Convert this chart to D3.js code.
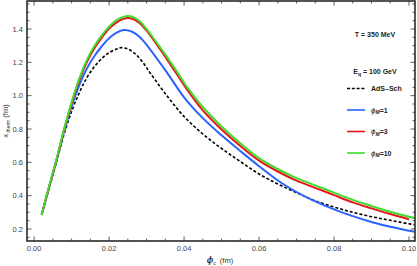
<!DOCTYPE html>
<html><head><meta charset="utf-8">
<script src="https://cdn.jsdelivr.net/npm/d3@7"></script>
<style>body{margin:0;background:#fff}svg{display:block}text{font-family:"Liberation Sans",Arial,sans-serif}</style>
</head><body><svg id="c" width="417" height="266"></svg>
<script>
const phiAds = [0.002,0.004,0.006,0.008,0.010,0.012,0.014,0.016,0.018,0.020,0.022,0.0232,0.025,0.027,0.029,0.031,0.0354,0.040,0.045,0.050,0.055,0.060,0.065,0.070,0.0744,0.080,0.085,0.090,0.095,0.100,0.1016];
const xAds   = [0.284,0.445,0.605,0.77,0.905,1.015,1.105,1.172,1.222,1.258,1.28,1.288,1.28,1.25,1.20,1.135,1.0,0.875,0.77,0.683,0.605,0.53,0.47,0.418,0.374,0.332,0.30,0.274,0.252,0.231,0.225];
const phiM1 = [0.002,0.004,0.006,0.008,0.010,0.012,0.014,0.016,0.018,0.020,0.022,0.0238,0.026,0.028,0.030,0.0354,0.040,0.045,0.050,0.055,0.060,0.0656,0.070,0.0744,0.080,0.085,0.090,0.095,0.100,0.1016];
const xM1   = [0.284,0.45,0.615,0.785,0.935,1.06,1.16,1.235,1.295,1.345,1.378,1.394,1.385,1.355,1.305,1.14,0.99,0.865,0.762,0.668,0.577,0.482,0.422,0.372,0.318,0.277,0.242,0.213,0.19,0.183];
const phiM3 = [0.002,0.004,0.006,0.008,0.010,0.012,0.014,0.016,0.018,0.020,0.022,0.024,0.025,0.026,0.028,0.030,0.032,0.035,0.038,0.041,0.045,0.050,0.055,0.060,0.065,0.070,0.075,0.080,0.085,0.090,0.095,0.100];
const xM3   = [0.284,0.453,0.617,0.795,0.952,1.09,1.198,1.282,1.347,1.402,1.44,1.462,1.466,1.463,1.438,1.39,1.33,1.232,1.132,1.03,0.912,0.797,0.698,0.61,0.545,0.49,0.447,0.403,0.36,0.324,0.29,0.259];
const phiM10 = [0.002,0.004,0.006,0.008,0.010,0.012,0.014,0.016,0.018,0.020,0.022,0.024,0.025,0.026,0.028,0.030,0.032,0.035,0.038,0.041,0.045,0.050,0.055,0.060,0.065,0.070,0.075,0.080,0.085,0.090,0.095,0.100,0.1016];
const xM10   = [0.284,0.456,0.622,0.80,0.96,1.10,1.21,1.295,1.36,1.414,1.453,1.474,1.478,1.475,1.45,1.40,1.34,1.246,1.147,1.045,0.932,0.815,0.715,0.625,0.56,0.505,0.462,0.418,0.375,0.338,0.303,0.273,0.265];
const xTicks = [0.00,0.02,0.04,0.06,0.08,0.10];
const yTicks = [0.2,0.4,0.6,0.8,1.0,1.2,1.4];

const series = [
  {phi:phiAds, v:xAds, color:"#000", dash:"3,2", name:"AdS\u2013Sch"},
  {phi:phiM1, v:xM1, color:"#2a62ff", dash:null, name:"1"},
  {phi:phiM3, v:xM3, color:"#e8141b", dash:null, name:"3"},
  {phi:phiM10, v:xM10, color:"#3fdc2c", dash:null, name:"10"}
];

const svg = d3.select("#c");
const L=27,R=415,T=1,B=241;
const x = d3.scaleLinear().domain([-0.0019,0.1016]).range([L,R]);
const y = d3.scaleLinear().domain([0.128,1.568]).range([B,T]);

svg.append("clipPath").attr("id","cp").append("rect").attr("x",L).attr("y",T).attr("width",R-L).attr("height",B-T);
const line = d3.line().x(d=>x(d[0])).y(d=>y(d[1])).curve(d3.curveCatmullRom.alpha(0.5));
const g = svg.append("g").attr("clip-path","url(#cp)");
series.forEach(s=>{
  g.append("path").datum(s.phi.map((p,i)=>[p,s.v[i]]))
   .attr("d",line).attr("fill","none").attr("stroke",s.color)
   .attr("stroke-width",s.dash?1.6:2).attr("stroke-dasharray",s.dash);
});

// ticks
const tk = svg.append("g").attr("stroke","#333").attr("stroke-width",0.8);
const xMinor = d3.range(0,0.1016,0.005);
xMinor.forEach((v,i)=>{
  const len = (i%4===0)?4.5:2.5;
  tk.append("line").attr("x1",x(v)).attr("x2",x(v)).attr("y1",B).attr("y2",B-len);
  tk.append("line").attr("x1",x(v)).attr("x2",x(v)).attr("y1",T).attr("y2",T+len);
});
const yMinor = d3.range(0.15,1.56,0.05);
yMinor.forEach(v=>{
  const major = Math.abs(Math.round(v*10)/10-v)<1e-6 && Math.round(v*10)%2===0;
  const len = major?4.5:2.5;
  tk.append("line").attr("y1",y(v)).attr("y2",y(v)).attr("x1",L).attr("x2",L+len);
  tk.append("line").attr("y1",y(v)).attr("y2",y(v)).attr("x1",R).attr("x2",R-len);
});
// frame
svg.append("rect").attr("x",L).attr("y",T).attr("width",R-L).attr("height",B-T)
  .attr("fill","none").attr("stroke","#2a2a2a").attr("stroke-width",1.6);

// tick labels
svg.append("g").selectAll("text").data(yTicks).join("text")
  .attr("x",L-4).attr("y",d=>y(d)+2.7).attr("text-anchor","end")
  .attr("font-size",7.5).attr("fill","#444").text(d=>d3.format(".1f")(d));
svg.append("g").selectAll("text").data(xTicks).join("text")
  .attr("x",d=>x(d)).attr("y",B+9.5).attr("text-anchor","middle")
  .attr("font-size",7.5).attr("fill","#444").text(d=>d3.format(".2f")(d));

// axis titles
const xt = svg.append("text").attr("x",220).attr("y",263).attr("text-anchor","middle").attr("font-size",7.5).attr("fill","#333");
xt.append("tspan").attr("font-style","italic").attr("font-weight","bold").attr("font-size",8.5).text("\u03d5");
xt.append("tspan").attr("font-style","italic").attr("font-size",5.5).attr("dy",1.5).text("c");
xt.append("tspan").attr("dy",-1.5).text("\u2002(fm)");

const yt = svg.append("text").attr("transform","translate(8,121) rotate(-90)").attr("text-anchor","middle").attr("font-size",7.5).attr("fill","#333");
yt.append("tspan").text("x");
yt.append("tspan").attr("font-size",5).attr("dy",1.5).text(" therm");
yt.append("tspan").attr("dy",-1.5).text(" (fm)");

// annotations
svg.append("text").attr("x",375).attr("y",37).attr("text-anchor","middle").attr("font-size",7).attr("font-weight","bold").attr("fill","#222").text("T = 350 MeV");
const t2 = svg.append("text").attr("x",375).attr("y",74).attr("text-anchor","middle").attr("font-size",7).attr("font-weight","bold").attr("fill","#222");
t2.append("tspan").text("E");
t2.append("tspan").attr("font-size",5).attr("dy",2).text("q");
t2.append("tspan").attr("dy",-2).text(" = 100 GeV");

// legend
const ly = [88.5,110,131.5,153];
series.forEach((s,i)=>{
  svg.append("line").attr("x1",347).attr("x2",365).attr("y1",ly[i]).attr("y2",ly[i])
    .attr("stroke",s.color).attr("stroke-width",s.dash?1.4:1.6).attr("stroke-dasharray",s.dash?"3,1.8":null);
  const t = svg.append("text").attr("x",371).attr("y",ly[i]+2.6).attr("font-size",7).attr("font-weight","bold").attr("fill","#222");
  if(s.dash){ t.text(s.name); }
  else {
    t.append("tspan").attr("font-style","italic").attr("font-weight","normal").attr("font-size",8).text("\u03d5");
    t.append("tspan").attr("font-style","italic").attr("font-size",5).attr("dy",1.5).text("M");
    t.append("tspan").attr("dy",-1.5).text("="+s.name);
  }
});
</script></body></html>
